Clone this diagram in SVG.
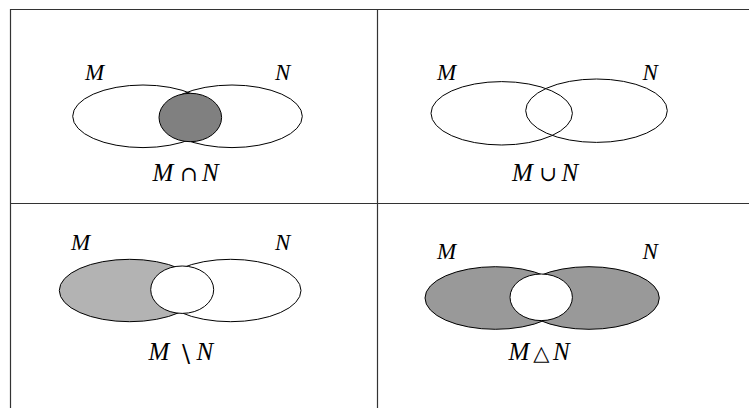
<svg xmlns="http://www.w3.org/2000/svg" width="749" height="408" viewBox="0 0 749 408">
<style>
.grid{stroke:#333;stroke-width:1.2;fill:none}
.e{stroke:#000;stroke-width:1;fill:none}
.w{fill:#fff}
.dark{fill:#808080}
.light{fill:#b3b3b3}
.mid{fill:#999999}
text{font-family:"Liberation Serif","Times New Roman",serif;font-size:23px;fill:#000}
.i{font-style:italic}
.l{font-size:25px}
.s{font-family:"DejaVu Serif","DejaVu Sans",serif;font-size:21px;text-anchor:middle}
.b{font-size:24px}
</style>
<rect x="0" y="0" width="749" height="408" fill="#fff"/>
<g id="grid">
<line class="grid" x1="10" y1="9.5" x2="749" y2="9.5"/>
<line class="grid" x1="10" y1="203.5" x2="749" y2="203.5"/>
<line class="grid" x1="10.5" y1="9" x2="10.5" y2="408"/>
<line class="grid" x1="377.5" y1="9" x2="377.5" y2="408"/>
</g>
<g id="intersection">
<ellipse class="e" cx="143" cy="116.3" rx="70.3" ry="31.3"/>
<ellipse class="e" cx="232" cy="116.3" rx="70.3" ry="31.3"/>
<ellipse class="e dark" cx="190.3" cy="117.5" rx="31.3" ry="24.2"/>
<text class="i" x="85" y="80">M</text>
<text class="i" x="275" y="80">N</text>
<text class="i l" x="152.5" y="181">M</text>
<text class="s" x="188.7" y="181">∩</text>
<text class="i l" x="202" y="181">N</text>
</g>
<g id="union">
<ellipse class="e" cx="501.7" cy="113.3" rx="70.7" ry="31.7"/>
<ellipse class="e" cx="596.5" cy="110.7" rx="70.8" ry="31.7"/>
<text class="i" x="437" y="80">M</text>
<text class="i" x="642.5" y="80">N</text>
<text class="i l" x="512" y="181">M</text>
<text class="s" x="548" y="181">∪</text>
<text class="i l" x="561.5" y="181">N</text>
</g>
<g id="difference">
<ellipse class="e light" cx="129.6" cy="290.5" rx="70.3" ry="31.2"/>
<ellipse class="e" cx="230.7" cy="290.5" rx="70.3" ry="31.2"/>
<ellipse class="e w" cx="182.2" cy="289.7" rx="31.5" ry="23.7"/>
<text class="i" x="71" y="249.5">M</text>
<text class="i" x="275" y="249.5">N</text>
<text class="i l" x="148.5" y="360">M</text>
<text class="s b" x="186" y="362">\</text>
<text class="i l" x="196.5" y="360">N</text>
</g>
<g id="symdiff">
<ellipse class="e mid" cx="495.3" cy="298" rx="70.3" ry="31.3"/>
<ellipse class="e mid" cx="589" cy="298" rx="70.3" ry="31.3"/>
<ellipse class="e w" cx="541.2" cy="297.3" rx="31.2" ry="23.3"/>
<text class="i" x="437" y="258.5">M</text>
<text class="i" x="642.5" y="258.5">N</text>
<text class="i l" x="508.5" y="360">M</text>
<text class="s" x="541.3" y="360">△</text>
<text class="i l" x="553" y="360">N</text>
</g>
</svg>
